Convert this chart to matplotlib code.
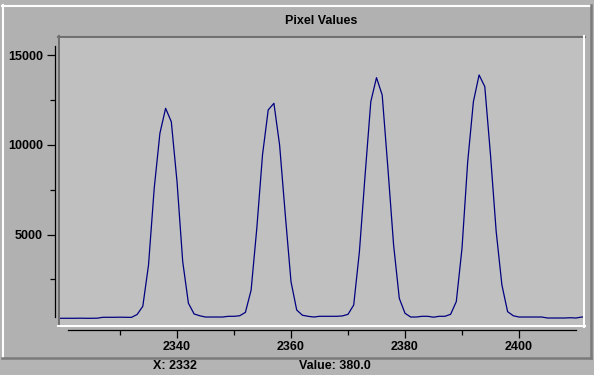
import matplotlib.pyplot as plt
from matplotlib.patches import Rectangle
from matplotlib.ticker import FixedLocator

# === Datos ===
pixel = list(range(2319, 2413))
valores = [
    330, 330, 330, 330, 335, 330, 330, 335, 385, 385,      # 2319-2328
    385, 390, 385, 380, 540, 1000, 3300, 7580, 10650, 12040,  # 2329-2338
    11290, 7950, 3490, 1170, 570, 470, 400, 400, 400, 400,  # 2339-2348
    440, 440, 470, 660, 1900, 5350, 9440, 11950, 12320, 9990,  # 2349-2358
    6090, 2370, 790, 500, 440, 400, 440, 440, 440, 440,     # 2359-2368
    460, 550, 1070, 4040, 8320, 12410, 13750, 12780, 8700, 4420,  # 2369-2378
    1440, 610, 400, 400, 440, 440, 390, 440, 440, 550,      # 2379-2388
    1260, 4230, 9060, 12410, 13900, 13250, 9440, 5160, 2190, 700,  # 2389-2398
    470, 400, 400, 400, 400, 400, 345, 345, 345, 345,       # 2399-2408
    360, 345, 400, 400,                                     # 2409-2412
]
x_mayores = [2340, 2360, 2380, 2400]
x_menores = [2330, 2350, 2370, 2390]
y_mayores = [5000, 10000, 15000]
y_menores = [2500, 7500, 12500]
titulo = "Pixel Values"
estado_x = "X: 2332"
estado_valor = "Value: 380.0"

W, H = 594, 375
plt.rcParams["font.family"] = ["Liberation Sans", "DejaVu Sans"]
plt.rcParams["font.weight"] = "bold"

fig = plt.figure(figsize=(W / 100, H / 100), dpi=100, facecolor="#b4b4b4")

# === Fondo con marcos en coordenadas de pixel ===
bg = fig.add_axes([0, 0, 1, 1], zorder=0)
bg.set_xlim(0, W)
bg.set_ylim(H, 0)
bg.axis("off")
bg.add_patch(Rectangle((2, 5), 589, 352, facecolor="#b1b1b1", edgecolor="none"))
bg.plot([2, 591], [5.5, 5.5], color="white", lw=1.5)
bg.plot([2.5, 2.5], [5, 357], color="white", lw=1.5)
bg.plot([2, 591], [357.5, 357.5], color="#7a7a7a", lw=1.8)
bg.plot([590.5, 590.5], [5, 358], color="#7a7a7a", lw=1.8)
# panel hundido
bg.plot([58, 585], [37, 37], color="#707070", lw=1.5)
bg.plot([59, 59], [36, 326], color="#707070", lw=1.5)
bg.plot([58, 585], [326, 326], color="white", lw=1.5)
bg.plot([584, 584], [36, 327], color="white", lw=1.5)

bg.text(321.5, 20.5, titulo, ha="center", va="center", fontsize=9, fontweight="bold")
# barra de estado (en la referencia queda casi en el borde inferior)
bg.text(153, 360, estado_x, ha="left", va="top", fontsize=9, fontweight="bold")
bg.text(299, 360, estado_valor, ha="left", va="top", fontsize=9, fontweight="bold")

# === Area de datos ===
x0, x1, y0, y1 = 60, 583, 38, 325
ax = fig.add_axes([x0 / W, 1 - y1 / H, (x1 - x0) / W, (y1 - y0) / H], zorder=1)
ax.set_facecolor("#c0c0c0")
ax.plot(pixel, valores, color="#000080", lw=0.9)

ax.set_xlim(2319.47, 2411.23)
ax.set_ylim(-45, 15962)

for lado in ["top", "right"]:
    ax.spines[lado].set_visible(False)
ax.spines["left"].set_position(("outward", 3.4))
ax.spines["bottom"].set_position(("outward", 3.6))
ax.spines["left"].set_bounds(400, 15516)
ax.spines["bottom"].set_bounds(2320.9, 2410)
for lado in ["left", "bottom"]:
    ax.spines[lado].set_linewidth(0.9)

ax.xaxis.set_major_locator(FixedLocator(x_mayores))
ax.xaxis.set_minor_locator(FixedLocator(x_menores))
ax.yaxis.set_major_locator(FixedLocator(y_mayores))
ax.yaxis.set_minor_locator(FixedLocator(y_menores))
ax.tick_params(which="major", length=5.8, width=0.9, labelsize=9, pad=3)
ax.tick_params(which="minor", length=3.8, width=0.9)
ax.tick_params(axis="x", pad=2)
for lbl in ax.get_xticklabels() + ax.get_yticklabels():
    lbl.set_fontweight("bold")

plt.savefig("out.png", dpi=100, facecolor=fig.get_facecolor())
